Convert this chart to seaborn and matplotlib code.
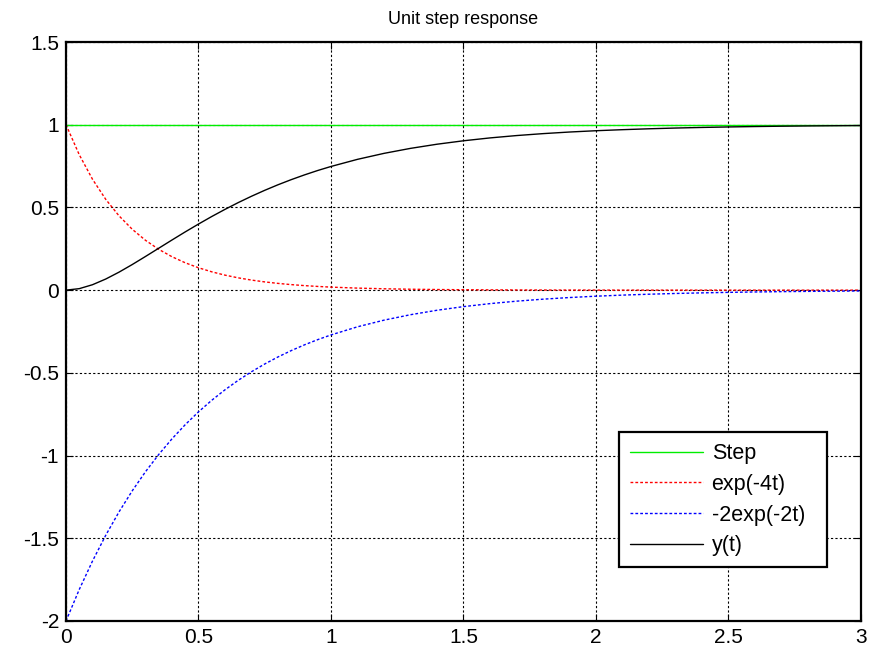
import matplotlib
matplotlib.use("Agg")
import matplotlib.pyplot as plt
import seaborn as sns
import pandas as pd

# time samples
t = [0.0, 0.05, 0.1, 0.15, 0.2, 0.25, 0.3, 0.35, 0.4, 0.45, 0.5, 0.55, 0.6, 0.65,
     0.7, 0.75, 0.8, 0.85, 0.9, 0.95, 1.0, 1.1, 1.2, 1.3, 1.4, 1.5, 1.6, 1.7, 1.8,
     1.9, 2.0, 2.1, 2.2, 2.3, 2.4, 2.5, 2.6, 2.7, 2.8, 2.9, 3.0]
step = [1.0] * len(t)
exp4 = [1.0, 0.8187, 0.6703, 0.5488, 0.4493, 0.3679, 0.3012, 0.2466, 0.2019, 0.1653,
        0.1353, 0.1108, 0.0907, 0.0743, 0.0608, 0.0498, 0.0408, 0.0334, 0.0273, 0.0224,
        0.0183, 0.0123, 0.0082, 0.0055, 0.0037, 0.0025, 0.0017, 0.0011, 0.0007, 0.0005,
        0.0003, 0.0002, 0.0002, 0.0001, 0.0001, 0.0, 0.0, 0.0, 0.0, 0.0, 0.0]
exp2 = [-2.0, -1.8097, -1.6375, -1.4816, -1.3406, -1.2131, -1.0976, -0.9932, -0.8987,
        -0.8131, -0.7358, -0.6657, -0.6024, -0.5450, -0.4932, -0.4463, -0.4038, -0.3654,
        -0.3306, -0.2991, -0.2707, -0.2216, -0.1814, -0.1485, -0.1216, -0.0996, -0.0815,
        -0.0667, -0.0546, -0.0447, -0.0366, -0.0300, -0.0246, -0.0201, -0.0165, -0.0135,
        -0.0110, -0.0090, -0.0074, -0.0061, -0.0050]
yt = [0.0, 0.0090, 0.0328, 0.0672, 0.1087, 0.1548, 0.2036, 0.2534, 0.3032, 0.3522,
      0.3995, 0.4451, 0.4883, 0.5293, 0.5676, 0.6035, 0.6370, 0.6680, 0.6967, 0.7233,
      0.7476, 0.7907, 0.8268, 0.8570, 0.8821, 0.9029, 0.9202, 0.9344, 0.9461, 0.9558,
      0.9637, 0.9700, 0.9754, 0.9799, 0.9835, 0.9865, 0.9890, 0.9910, 0.9926, 0.9939,
      0.9950]

xticks = [0, 0.5, 1, 1.5, 2, 2.5, 3]
yticks = [-2, -1.5, -1, -0.5, 0, 0.5, 1, 1.5]
xticklabels = ["0", "0.5", "1", "1.5", "2", "2.5", "3"]
yticklabels = ["-2", "-1.5", "-1", "-0.5", "0", "0.5", "1", "1.5"]

sns.set_style("white")
plt.rcParams['font.family'] = ['Liberation Sans', 'DejaVu Sans']
plt.rcParams['text.color'] = 'black'

fig = plt.figure(figsize=(8.79, 6.47), dpi=100)
ax = fig.add_axes([66/879, 1-621/647, (861-66)/879, (621-42)/647])

df = pd.DataFrame({"t": t, "step": step, "exp4": exp4, "exp2": exp2, "y": yt})
sns.lineplot(data=df, x="t", y="step", ax=ax, color="#00ee00", lw=1.0, label="Step", sort=False)
sns.lineplot(data=df, x="t", y="exp4", ax=ax, color="red", lw=1.0, ls=(0, (2, 1.5)), label="exp(-4t)", sort=False)
sns.lineplot(data=df, x="t", y="exp2", ax=ax, color="blue", lw=1.0, ls=(0, (2, 1.5)), label="-2exp(-2t)", sort=False)
sns.lineplot(data=df, x="t", y="y", ax=ax, color="black", lw=1.0, label="y(t)", sort=False)

ax.set_xlim(0, 3)
ax.set_ylim(-2, 1.5)
ax.set_xticks(xticks)
ax.set_xticklabels(xticklabels)
ax.set_yticks(yticks)
ax.set_yticklabels(yticklabels)
ax.set_xlabel("")
ax.set_ylabel("")
ax.set_title("Unit step response", fontsize=13, pad=13, color="black")
ax.grid(True, color="black", ls=(0, (2, 2)), lw=0.8)
ax.tick_params(axis="both", direction="in", length=5, labelsize=15, colors="black",
               top=True, right=True, bottom=True, left=True, pad=5)
for s in ax.spines.values():
    s.set_color("black")
    s.set_linewidth(1.6)

leg = ax.legend(loc="lower left", bbox_to_anchor=(0.6956, 0.0933, 0.2616, 0.2332),
                mode="expand", frameon=True, fancybox=False, fontsize=15.5, handlelength=3.4,
                borderpad=0.5, labelspacing=0.45, handletextpad=0.4, borderaxespad=0,
                framealpha=1)
leg.get_frame().set_edgecolor("black")
leg.get_frame().set_linewidth(1.6)
for txt in leg.get_texts():
    txt.set_color("black")

fig.savefig("out.png", dpi=100, facecolor="white")
